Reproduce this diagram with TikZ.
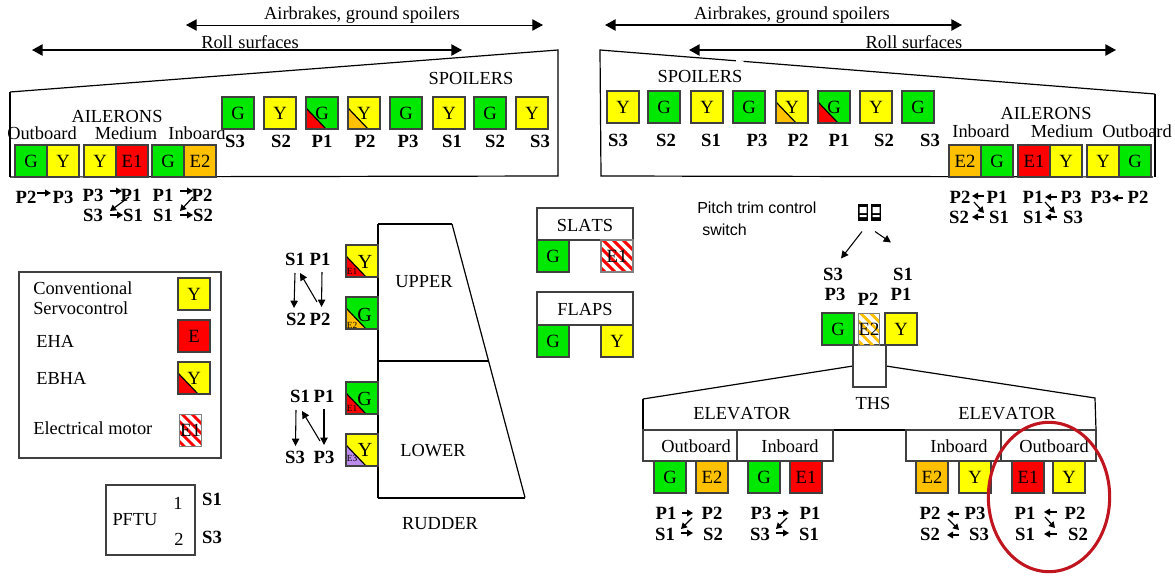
\documentclass[tikz,border=0pt]{standalone}
\usepackage{fontspec}
\setmainfont[Kerning=Off]{Liberation Serif}
\newfontfamily\sansf{Liberation Sans}
\usetikzlibrary{arrows.meta,calc,shapes.geometric}
\definecolor{cG}{HTML}{00E800}
\definecolor{cY}{HTML}{FFFF00}
\definecolor{cR}{HTML}{FF0000}
\definecolor{cO}{HTML}{FFC000}
\definecolor{cP}{HTML}{BB8CEB}
\definecolor{cB}{HTML}{404040}
\definecolor{cE}{HTML}{C0141E}
\tikzset{
  x=0.75pt,y=-0.75pt,
  txt/.style={inner sep=0pt,font=\fontsize{13.8}{15}\selectfont},
  leg/.style={inner sep=0pt,anchor=west,font=\fontsize{13.8}{15}\selectfont},
  lbl/.style={inner sep=0pt,font=\fontsize{14}{15}\selectfont\bfseries},
  sw/.style={inner sep=0pt,font=\fontsize{12}{14}\selectfont\sansf,anchor=west},
  sq/.style={draw=cB,line width=0.9pt,minimum width=24pt,minimum height=24pt,inner sep=0pt,fill=#1,font=\fontsize{14}{15}\selectfont},
  narrow/.style={draw=gray,line width=0.75pt,minimum width=16pt,minimum height=24pt,inner sep=0pt,font=\fontsize{14}{15}\selectfont},
  tri/.style={path picture={
    \fill[#1] ($(path picture bounding box.north west)+(0,11)$) -- ($(path picture bounding box.north west)+(21,33)$) -- (path picture bounding box.south west) -- cycle;
    \draw[black,line width=0.9pt] ($(path picture bounding box.north west)+(0,11)$) -- ($(path picture bounding box.north west)+(21,33)$);}},
  hatch/.style={path picture={
    \foreach \i in {-40,-30,...,40}
      \draw[#1,line width=2.2pt] ($(path picture bounding box.north west)+(\i,-2)$) -- ++(42,42);}},
  bigar/.style={{Triangle[length=8pt,width=8.5pt]}-{Triangle[length=8pt,width=8.5pt]},line width=1.1pt},
  thinar/.style={{Triangle[length=8pt,width=8.5pt]}-{Triangle[length=8pt,width=8.5pt]},line width=0.75pt},
  smar/.style={-{Triangle[length=4.5pt,width=5pt]},line width=0.9pt},
  lgar/.style={-{Triangle[length=5.5pt,width=5.5pt]},line width=0.8pt},
  frame/.style={line width=0.9pt,draw=black},
  heavy/.style={line width=1.5pt,draw=black},
  panel/.style={draw=cB,line width=0.9pt},
}
\newcommand{\bx}[5]{\node[sq=#4] (#1) at (#2+16,#3+16) {#5};}
\newcommand{\eb}[6]{\node[sq=#4,tri=#5] (#1) at (#2+16,#3+16) {#6};}
\newcommand{\hb}[5]{\node[narrow,hatch=#4] (#1) at (#2+10.5,#3+16) {#5};}
\newcommand{\tx}[3]{\node[txt] (#1) at (#2) {#3};}
\newcommand{\lb}[3]{\node[lbl] (#1) at (#2) {#3};}
\newcommand{\arw}[5][smar]{\draw[#1] ($(#2)+(#3)$) -- ($(#4)+(#5)$);}
\begin{document}
\begin{tikzpicture}
\useasboundingbox (0,0) rectangle (1175,575);
% top arrows
\coordinate (ab1a) at (186,25); \coordinate (ab1b) at (543,25);
\coordinate (rs1a) at (32,50); \coordinate (rs1b) at (462,50);
\coordinate (ab2a) at (605,25); \coordinate (ab2b) at (962,25);
\coordinate (rs2a) at (689,50); \coordinate (rs2b) at (1116,50);
\draw[thinar] (ab1a) -- (ab1b);
\draw[bigar] (rs1a) -- (rs1b);
\draw[bigar] (ab2a) -- (ab2b);
\draw[bigar] (rs2a) -- (rs2b);
\tx{tab1}{362,15}{Airbrakes, ground spoilers}
\tx{trs1}{250,42}{Roll\hspace{0.3em}surfaces}
\tx{tab2}{792,15}{Airbrakes, ground spoilers}
\tx{trs2}{914,42}{Roll surfaces}
% left wing
\coordinate (lw1) at (10,92); \coordinate (lw2) at (558,50); \coordinate (lw3) at (558,176); \coordinate (lw4) at (10,177);
\draw[frame] (lw1) -- (lw2) -- (lw3) -- (lw4);
\draw[heavy] (lw4) -- (lw1);
\tx{tsp1}{471,78}{SPOILERS}
\tx{tai1}{117,116}{AILERONS}
\tx{tlo}{42,133}{Outboard}
\tx{tlm}{126,133}{Medium}
\tx{tli}{197,133}{Inboard}
\bx{a1}{15}{145}{cG}{G}
\bx{a2}{47}{145}{cY}{Y}
\bx{a3}{84}{145}{cY}{Y}
\bx{a4}{116}{145}{cR}{E1}
\bx{a5}{152}{145}{cG}{G}
\bx{a6}{184}{145}{cO}{E2}
\bx{s1}{222}{97}{cG}{G}
\bx{s2}{264}{97}{cY}{Y}
\eb{s3}{306}{97}{cG}{cR}{G}
\eb{s4}{348}{97}{cY}{cO}{Y}
\bx{s5}{390}{97}{cG}{G}
\bx{s6}{433}{97}{cY}{Y}
\bx{s7}{474}{97}{cG}{G}
\bx{s8}{516}{97}{cY}{Y}
\lb{ls1}{235,141}{S3}\lb{ls2}{281,141}{S2}\lb{ls3}{322,141}{P1}\lb{ls4}{365,141}{P2}
\lb{ls5}{408,141}{P3}\lb{ls6}{452,141}{S1}\lb{ls7}{495,141}{S2}\lb{ls8}{540,141}{S3}
% left routes
\lb{q1}{26,197}{P2}\lb{q2}{63,197}{P3}
\arw{q1}{11,-4}{q2}{-12,-4}
\lb{q3}{93,195}{P3}\lb{q4}{131,195}{P1}\lb{q5}{93,215}{S3}\lb{q6}{133,215}{S1}
\arw{q3}{17,-4}{q4}{-9,-4}
\arw{q4}{-2,2}{q5}{17,-4}
\arw{q5}{17,0}{q6}{-10,0}
\lb{q7}{163,195}{P1}\lb{q8}{202,195}{P2}\lb{q9}{163,215}{S1}\lb{q10}{203,215}{S2}
\arw{q7}{17,-4}{q8}{-9,-4}
\arw{q8}{-9,2}{q9}{17,-4}
\arw{q9}{17,0}{q10}{-10,0}
% right wing
\coordinate (rw1) at (600,50); \coordinate (rw2) at (1155,94); \coordinate (rw3) at (1155,177); \coordinate (rw4) at (601,176);
\draw[frame] (rw2) -- (rw1) -- (rw4) -- (1153,177);
\draw[heavy] (rw2) -- (rw3);
\draw[white,line width=1.5pt] (736,60.8) -- (743.5,61.4);
\tx{tsp2}{700,76}{SPOILERS}
\tx{tai2}{1046,113}{AILERONS}
\tx{tri}{981,131}{Inboard}
\tx{trm}{1062,131}{Medium}
\tx{tro}{1137,131}{Outboard}
\bx{b1}{607}{91}{cY}{Y}
\bx{b2}{648}{91}{cG}{G}
\bx{b3}{691}{91}{cY}{Y}
\bx{b4}{733}{91}{cG}{G}
\eb{b5}{776}{91}{cY}{cO}{Y}
\eb{b6}{818}{91}{cG}{cR}{G}
\bx{b7}{860}{91}{cY}{Y}
\bx{b8}{902}{91}{cG}{G}
\lb{rs1}{618,140}{S3}\lb{rs2}{666,140}{S2}\lb{rs3}{711,140}{S1}\lb{rs4}{757,140}{P3}
\lb{rs5}{798,140}{P2}\lb{rs6}{839,140}{P1}\lb{rs7}{884,140}{S2}\lb{rs8}{930,140}{S3}
\bx{c1}{949}{145}{cO}{E2}
\bx{c2}{981}{145}{cG}{G}
\bx{c3}{1018}{145}{cR}{E1}
\bx{c4}{1050}{145}{cY}{Y}
\bx{c5}{1087}{145}{cY}{Y}
\bx{c6}{1119}{145}{cG}{G}
\lb{w1}{960,197}{P2}\lb{w2}{997,197}{P1}\lb{w3}{959,217}{S2}\lb{w4}{999,217}{S1}
\arw{w2}{-13,-1}{w1}{12,-1}
\arw{w1}{14,5}{w4}{-15,-4}
\arw{w4}{-15,0}{w3}{13,0}
\lb{w5}{1033,197}{P1}\lb{w6}{1071,197}{P3}\lb{w7}{1033,217}{S1}\lb{w8}{1073,217}{S3}
\arw{w6}{-14,0}{w5}{12,0}
\arw{w5}{12,5}{w8}{-18,-4}
\arw{w8}{-16,0}{w7}{12,0}
\lb{w9}{1101,197}{P3}\lb{w10}{1138,197}{P2}
\arw{w10}{-15,1}{w9}{11,1}
% legend
\draw[panel] (19,272) rectangle (221,458);
\node[leg] (l1) at (33,288) {Conventional};
\node[leg] (l2) at (33,308) {Servocontrol};
\node[leg] (l3) at (36,341) {EHA};
\node[leg] (l4) at (36,378) {EBHA};
\node[leg] (l5) at (33,428) {Electrical motor};
\bx{lb1}{178}{278}{cY}{Y}
\bx{lb2}{178}{320}{cR}{E}
\eb{lb3}{178}{362}{cY}{cR}{Y}
\hb{lb4}{180}{414}{cR}{E1}
% PFTU
\draw[panel] (106,485) rectangle (195,555);
\tx{pf}{135,520}{PFTU}
\tx{pf1}{178,503}{1}
\tx{pf2}{179,539}{2}
\lb{pfs1}{212,499}{S1}
\lb{pfs3}{212,537}{S3}
% rudder
\coordinate (ru1) at (378,224); \coordinate (ru2) at (452,224); \coordinate (ru3) at (525,497.5); \coordinate (ru4) at (378,497.5);
\coordinate (ru5) at (378,361); \coordinate (ru6) at (488.5,361);
\draw[frame] (ru2) -- (ru3);
\draw[heavy] (ru3) -- (ru4);
\draw[heavy] (ru1) -- (ru2);
\draw[frame] (ru1) -- (ru4);
\draw[frame] (ru5) -- (ru6);
\tx{tup}{424,282}{UPPER}
\tx{tlw}{433,451}{LOWER}
\tx{tru}{440,524}{RUDDER}
\eb{r1}{346}{245}{cY}{cR}{}
\eb{r2}{346}{297}{cG}{cO}{}
\eb{r3}{346}{382}{cG}{cR}{}
\eb{r4}{346}{434}{cY}{cP}{}
\node[txt,font=\fontsize{15}{15}\selectfont] (r1t) at (365,262) {Y};
\node[txt,font=\fontsize{15}{15}\selectfont] (r2t) at (364.5,315) {G};
\node[txt,font=\fontsize{15}{15}\selectfont] (r3t) at (364.5,399) {G};
\node[txt,font=\fontsize{15}{15}\selectfont] (r4t) at (365,450) {Y};
\node[inner sep=0pt,font=\fontsize{7}{8}\selectfont] (r1e) at (352,271.5) {E1};
\node[inner sep=0pt,font=\fontsize{7}{8}\selectfont] (r2e) at (352,325) {E2};
\node[inner sep=0pt,font=\fontsize{7}{8}\selectfont] (r3e) at (352,408) {E1};
\node[inner sep=0pt,font=\fontsize{7}{8}\selectfont] (r4e) at (352,458) {E3};
\lb{u1}{295,259}{S1}\lb{u2}{320,259}{P1}\lb{u3}{296,319}{S2}\lb{u4}{320,319}{P2}
\arw[lgar]{u1}{0,14}{u3}{-2,-11}
\arw[lgar]{u2}{2,13}{u4}{1.5,-12}
\arw[lgar]{u4}{-3,-17}{u1}{5,14}
\lb{v1}{300,396}{S1}\lb{v2}{324,396}{P1}\lb{v3}{295,457}{S3}\lb{v4}{324,457}{P3}
\arw[lgar]{v1}{-4,14}{v3}{0.5,-11}
\arw[lgar]{v2}{0,13}{v4}{0,-12}
\arw[lgar]{v4}{-4,-16}{v1}{2,15}
% slats flaps
\draw[panel] (537,208) rectangle (633,240);
\tx{tsl}{585,225}{SLATS}
\bx{f1}{537}{240}{cG}{G}
\node[sq=white,draw=gray,hatch=cR] (f2) at (617,256) {E1};
\draw[panel] (537,292) rectangle (633,325);
\tx{tfl}{585,309}{FLAPS}
\bx{f3}{537}{325}{cG}{G}
\bx{f4}{601}{325}{cY}{Y}
% pitch trim
\node[sw] (pt1) at (697,208) {Pitch trim control};
\node[sw] (pt2) at (702,229.5) {switch};
\node[fill=black,minimum width=7.5pt,minimum height=12.5pt,inner sep=0pt] (sw1) at (863,212.5) {};
\node[fill=black,minimum width=7.5pt,minimum height=12.5pt,inner sep=0pt] (sw2) at (876,212.5) {};
\fill[white] (859.5,207) rectangle (866.5,213) (872.5,207) rectangle (879.5,213);
\fill[white] (859.5,215) rectangle (866.5,217) (872.5,215) rectangle (879.5,217);
\draw[lgar] ($(sw1)+(-1,19)$) -- ($(sw1)+(-22,46)$);
\draw[lgar] ($(sw2)+(-1,19)$) -- ($(sw2)+(15,30)$);
\lb{t1}{833,274}{S3}\lb{t2}{835,294}{P3}\lb{t3}{868,299}{P2}\lb{t4}{903,274}{S1}\lb{t5}{901,294}{P1}
% THS
\coordinate (el1) at (643,399); \coordinate (el2) at (853,366); \coordinate (el3) at (886,366); \coordinate (el4) at (1095,398);
\coordinate (el5) at (1096,430); \coordinate (el6) at (643,430);
\draw[frame] (el1) -- (el2);
\draw[frame] (el3) -- (el4) -- (el5);
\draw[heavy] (el5) -- (el6) -- (el1);
\draw[panel,fill=white] (853,345) rectangle (886,387);
\bx{h1}{822}{313}{cG}{G}
\hb{h2}{858.5}{313}{cO}{E2}
\bx{h3}{885}{313}{cY}{Y}
\tx{tth}{873,403}{THS}
\tx{te1}{742,414}{ELEVATOR}
\tx{te2}{1007,414}{ELEVATOR}
\draw[panel,fill=white] (643,430) rectangle (737,461);
\draw[panel,fill=white] (737,430) rectangle (833,461);
\draw[panel,fill=white] (906,430) rectangle (1001,461);
\draw[panel,fill=white] (1001,430) rectangle (1096,461);
\tx{te3}{696,446}{Outboard}
\tx{te4}{790,446}{Inboard}
\tx{te5}{959,446}{Inboard}
\tx{te6}{1054,446}{Outboard}
\bx{e1}{654}{461}{cG}{G}
\bx{e2}{696}{461}{cO}{E2}
\bx{e3}{748}{461}{cG}{G}
\bx{e4}{790}{461}{cR}{E1}
\bx{e5}{916}{461}{cO}{E2}
\bx{e6}{959}{461}{cY}{Y}
\bx{e7}{1012}{461}{cR}{E1}
\bx{e8}{1053}{461}{cY}{Y}
\lb{x1}{666,513}{P1}\lb{x2}{712,513}{P2}\lb{x3}{665,534}{S1}\lb{x4}{713,534}{S2}
\arw{x1}{16,0}{x2}{-19,0}
\arw{x2}{-20,5}{x3}{16,-5}
\arw{x3}{16,-1}{x4}{-20,-1}
\lb{x5}{761,513}{P3}\lb{x6}{810,513}{P1}\lb{x7}{760,534}{S3}\lb{x8}{809,534}{S1}
\arw{x5}{17,0}{x6}{-21,0}
\arw{x6}{-23,5}{x7}{16,-5}
\arw{x7}{16,-1}{x8}{-20,-1}
\lb{x9}{930,513}{P2}\lb{x10}{975,513}{P3}\lb{x11}{930,534}{S2}\lb{x12}{979,534}{S3}
\arw{x10}{-16,1}{x9}{17,1}
\arw{x9}{18,6}{x12}{-20,-4}
\arw{x12}{-20,1}{x11}{17,1}
\lb{x13}{1025,513}{P1}\lb{x14}{1075,513}{P2}\lb{x15}{1025,534}{S1}\lb{x16}{1078,534}{S2}
\arw{x14}{-18,-1}{x13}{19,-1}
\arw{x13}{20,4}{x16}{-23,-6}
\arw{x16}{-21,0}{x15}{19,0}
% highlight
\node[ellipse,draw=cE,line width=2.3pt,minimum width=91pt,minimum height=112pt,inner sep=0pt] (hl) at (1049,497) {};
\end{tikzpicture}
\end{document}
